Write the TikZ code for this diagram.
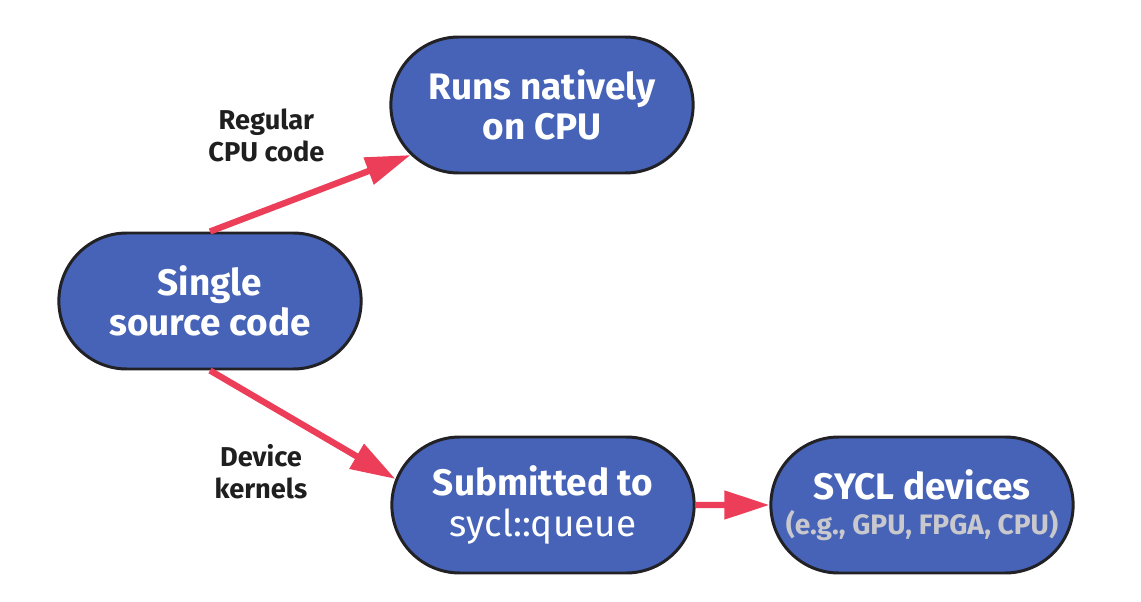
\documentclass[tikz,border=0pt]{standalone}
\usepackage{fontspec}
\setmainfont{Fira Sans}
\usepackage{tikz}
\usetikzlibrary{positioning,arrows.meta,shapes.misc}

\definecolor{pillblue}{RGB}{70,99,183}
\definecolor{arrred}{RGB}{236,62,88}
\definecolor{edgegray}{RGB}{34,34,38}
\definecolor{notegray}{RGB}{200,200,205}

\begin{document}
\begin{tikzpicture}[
    pill/.style={rounded rectangle, draw=edgegray, line width=1.7pt, fill=pillblue,
                 minimum width=6.28cm, minimum height=2.72cm, align=center,
                 text=white, font=\fontsize{21}{23}\selectfont\bfseries},
    lbl/.style={align=center, text=black!88,
                font=\fontsize{15.5}{18}\selectfont\bfseries},
    arr/.style={-{Triangle[length=0.9cm,width=0.55cm]}, line width=3.6pt, draw=arrred}
  ]
    \useasboundingbox (0,0) rectangle (22.82,-12.04);
    \node[pill] (src)   at (4.2,-6.02)   {Single\\source code};
    \node[pill] (cpu)   at (10.84,-2.1)  {Runs natively\\on CPU};
    \node[pill] (queue) at (10.86,-10.1) {Submitted to\\{\mdseries sycl::queue}};
    \node[pill] (dev)   at (18.44,-10.1)
      {SYCL devices\\[-3pt]{\fontsize{16}{17}\selectfont\color{notegray}(e.g., GPU, FPGA, CPU)}};
    \draw[arr] (src.north) -- node[pos=0.62, above left=0.26cm and 0.02cm, lbl]
      {Regular\\CPU code} (cpu);
    \draw[arr] (src.south) -- node[pos=0.6, below left=0cm and 0.1cm, lbl]
      {Device\\kernels} (queue.170);
    \draw[arr] (queue) -- (dev);
  \end{tikzpicture}
\end{document}
